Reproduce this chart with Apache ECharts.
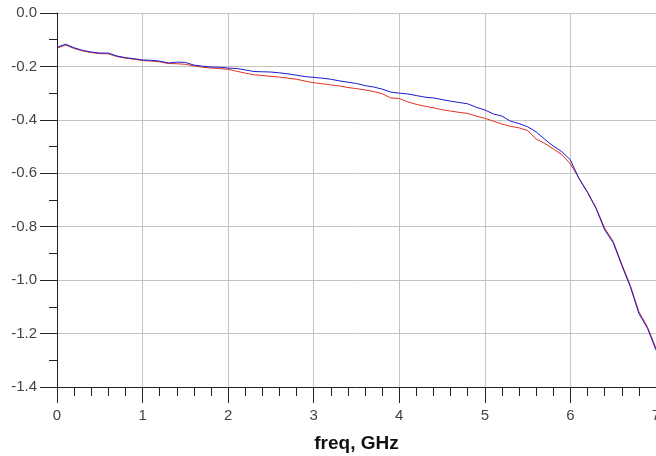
<!DOCTYPE html>
<html>
<head>
<meta charset="utf-8">
<script src="https://cdn.jsdelivr.net/npm/echarts@6/dist/echarts.min.js"></script>
<style>
  html, body { margin: 0; padding: 0; background: #fff; }
  #chart { width: 656px; height: 456px; }
</style>
</head>
<body>
<div id="chart"></div>
<script>
// frequency points, GHz
const freq = [
  0.0, 0.1, 0.2, 0.3, 0.4, 0.5, 0.6, 0.7, 0.8, 0.9,
  1.0, 1.1, 1.2, 1.3, 1.4, 1.5, 1.6, 1.7, 1.8, 1.9,
  2.0, 2.1, 2.2, 2.3, 2.4, 2.5, 2.6, 2.7, 2.8, 2.9,
  3.0, 3.1, 3.2, 3.3, 3.4, 3.5, 3.6, 3.7, 3.8, 3.9,
  4.0, 4.1, 4.2, 4.3, 4.4, 4.5, 4.6, 4.7, 4.8, 4.9,
  5.0, 5.1, 5.2, 5.3, 5.4, 5.5, 5.6, 5.7, 5.8, 5.9,
  6.0, 6.1, 6.2, 6.3, 6.4, 6.5, 6.6, 6.7, 6.8, 6.9,
  7.0
]
// blue trace
const blueTrace = [
  -0.128, -0.117, -0.130, -0.140, -0.146, -0.150, -0.150, -0.161, -0.167, -0.171,
  -0.176, -0.177, -0.180, -0.187, -0.184, -0.185, -0.195, -0.199, -0.202, -0.203,
  -0.206, -0.208, -0.213, -0.219, -0.220, -0.221, -0.224, -0.228, -0.233, -0.238,
  -0.241, -0.244, -0.248, -0.254, -0.259, -0.264, -0.272, -0.277, -0.285, -0.296,
  -0.300, -0.303, -0.309, -0.315, -0.318, -0.324, -0.330, -0.335, -0.340, -0.353,
  -0.363, -0.378, -0.386, -0.405, -0.414, -0.426, -0.445, -0.473, -0.498, -0.519,
  -0.550, -0.620, -0.672, -0.732, -0.812, -0.860, -0.945, -1.025, -1.125, -1.180,
  -1.262
]
// red trace
const redTrace = [
  -0.132, -0.120, -0.133, -0.142, -0.148, -0.152, -0.153, -0.163, -0.169, -0.173,
  -0.178, -0.180, -0.183, -0.189, -0.190, -0.192, -0.198, -0.203, -0.206, -0.208,
  -0.211, -0.218, -0.225, -0.231, -0.234, -0.237, -0.240, -0.244, -0.248, -0.255,
  -0.261, -0.265, -0.269, -0.273, -0.279, -0.283, -0.288, -0.294, -0.302, -0.318,
  -0.320, -0.333, -0.342, -0.349, -0.355, -0.362, -0.367, -0.372, -0.376, -0.386,
  -0.394, -0.405, -0.416, -0.424, -0.430, -0.440, -0.472, -0.488, -0.509, -0.530,
  -0.565, -0.618, -0.670, -0.730, -0.805, -0.855, -0.940, -1.020, -1.118, -1.175,
  -1.255
]
const xTicks = [0, 1, 2, 3, 4, 5, 6, 7]
const yTicks = [0.0, -0.2, -0.4, -0.6, -0.8, -1.0, -1.2, -1.4]

const chart = echarts.init(document.getElementById('chart'))
const labelFont = { fontFamily: 'Liberation Sans', fontSize: 15, color: '#444' }
const pairs = (ys) => freq.map((f, i) => [f, ys[i]])

chart.setOption({
  animation: false,
  backgroundColor: '#fff',
  grid: { left: 57, right: 0, top: 13, bottom: 69, outerBoundsMode: 'none' },
  xAxis: {
    type: 'value',
    min: xTicks[0],
    max: xTicks[xTicks.length - 1],
    interval: 1,
    name: 'freq, GHz',
    nameLocation: 'middle',
    nameGap: 47,
    nameTextStyle: { fontFamily: 'Liberation Sans', fontSize: 19, fontWeight: 'bold', color: '#111' },
    axisLine: { onZero: false, lineStyle: { color: '#222', width: 1 } },
    axisTick: { length: 16, lineStyle: { color: '#222' } },
    minorTick: { show: true, splitNumber: 5, length: 9, lineStyle: { color: '#222' } },
    axisLabel: { ...labelFont, margin: 21 },
    splitLine: { show: true, lineStyle: { color: '#c4c4c4', width: 1 } }
  },
  yAxis: {
    type: 'value',
    min: yTicks[yTicks.length - 1],
    max: yTicks[0],
    interval: 0.2,
    axisLine: { show: true, onZero: false, lineStyle: { color: '#222', width: 1 } },
    axisTick: { show: true, length: 17, lineStyle: { color: '#222' } },
    minorTick: { show: true, splitNumber: 2, length: 8, lineStyle: { color: '#222' } },
    axisLabel: { ...labelFont, margin: 20, formatter: v => v.toFixed(1) },
    splitLine: { show: true, lineStyle: { color: '#c4c4c4', width: 1 } }
  },
  series: [
    {
      name: 'red',
      type: 'line',
      data: pairs(redTrace),
      showSymbol: false,
      lineStyle: { color: '#e0301e', width: 1 }
    },
    {
      name: 'blue',
      type: 'line',
      data: pairs(blueTrace),
      showSymbol: false,
      lineStyle: { color: '#1a1ad0', width: 1 }
    }
  ]
})
</script>
</body>
</html>
